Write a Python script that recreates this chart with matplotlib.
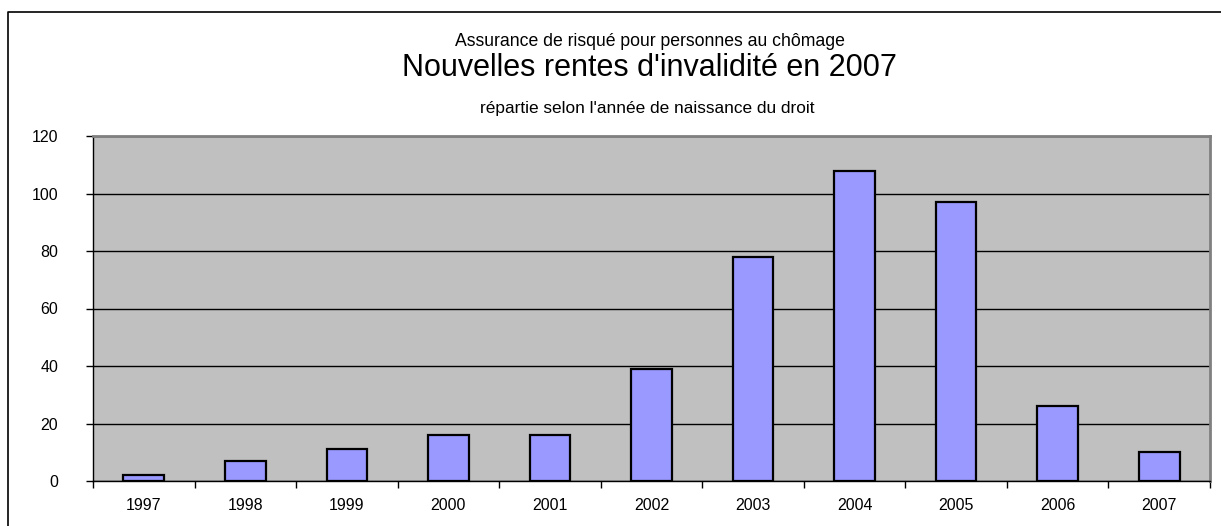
import numpy as np
import matplotlib.pyplot as plt
from matplotlib.lines import Line2D

# data
years = ["1997", "1998", "1999", "2000", "2001", "2002", "2003", "2004", "2005", "2006", "2007"]
rentes = [2, 7, 11, 16, 16, 39, 78, 108, 97, 26, 10]
yticks = [0, 20, 40, 60, 80, 100, 120]

plt.rcParams['font.family'] = ['Liberation Sans', 'DejaVu Sans']

fig = plt.figure(figsize=(12.21, 5.26), dpi=100)
ax = fig.add_axes([93 / 1221, 45 / 526, 1117 / 1221, 345 / 526])

# outer chart frame (only top and left edges are inside the image)
fx, fy = 8 / 1221, 1 - 12 / 526
fig.lines.append(Line2D([fx, fx, 1.0], [0.0, fy, fy], transform=fig.transFigure,
                        color='black', linewidth=1.2))

x = np.arange(len(years))
ax.set_facecolor('#C0C0C0')
ax.bar(x, rentes, width=0.4, color='#9999FF', edgecolor='black', linewidth=1.6, zorder=3)

ax.set_xlim(-0.5, len(years) - 0.5)
ax.set_ylim(0, 120)
ax.set_yticks(yticks)
ax.set_yticklabels([str(v) for v in yticks], fontsize=11.5)
ax.yaxis.grid(True, color='black', linewidth=1.0, zorder=1)
ax.set_axisbelow(True)

ax.set_xticks(x)
ax.set_xticklabels(years, fontsize=11.5)
ax.set_xticks(np.arange(-0.5, len(years)), minor=True)
ax.tick_params(axis='x', which='major', length=0, pad=12)
ax.tick_params(axis='x', which='minor', length=5, width=1, direction='out')
ax.tick_params(axis='y', length=5, width=1, direction='out', pad=20)

for side in ['top', 'right']:
    ax.spines[side].set_color('#808080')
    ax.spines[side].set_linewidth(2)
for side in ['left', 'bottom']:
    ax.spines[side].set_color('black')
    ax.spines[side].set_linewidth(1)

fig.text(0.532, 1 - 42 / 526, "Assurance de risqué pour personnes au chômage",
         ha='center', va='center', fontsize=12.7)
fig.text(0.532, 1 - 68 / 526, "Nouvelles rentes d'invalidité en 2007",
         ha='center', va='center', fontsize=22)
fig.text(0.530, 1 - 108 / 526, "répartie selon l'année de naissance du droit",
         ha='center', va='center', fontsize=12.4)

fig.savefig("out.png", dpi=100)
